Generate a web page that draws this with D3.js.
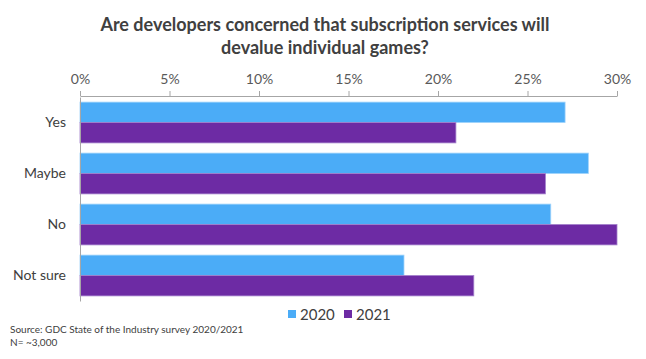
<!DOCTYPE html>
<html><head><meta charset="utf-8">
<script src="https://cdn.jsdelivr.net/npm/d3@7"></script>
<style>body{margin:0;background:#fff}text{font-family:Lato,"Open Sans",sans-serif}</style>
</head><body>
<svg id="c" width="646" height="359"></svg>
<script>
const categories = ["Yes", "Maybe", "No", "Not sure"];
const series = ["2020", "2021"];
const values2020 = [27.1, 28.4, 26.3, 18.1];
const values2021 = [21.0, 26.0, 30.0, 22.0];
const xTicks = [0, 5, 10, 15, 20, 25, 30];
const colors = ["#4BACF7", "#6D2BA4"];

const svg = d3.select("#c");
const x = d3.scaleLinear().domain([0, 30]).range([80, 617]);
const y = d3.scaleBand().domain(categories).range([97, 301]).paddingInner(0.2).paddingOuter(0.1);
const ys = d3.scaleBand().domain(series).range([0, y.bandwidth()]);

svg.append("text").attr("x", 325).attr("y", 31).attr("text-anchor", "middle")
  .attr("font-size", 18).attr("font-weight", "bold").attr("fill", "#404040")
  .text("Are developers concerned that subscription services will");
svg.append("text").attr("x", 325).attr("y", 54).attr("text-anchor", "middle")
  .attr("font-size", 18).attr("font-weight", "bold").attr("fill", "#404040")
  .text("devalue individual games?");

const xAxis = svg.append("g").attr("transform", "translate(0,96)")
  .call(d3.axisTop(x).tickValues(xTicks).tickFormat(d => d + "%").tickSize(5).tickSizeOuter(0));
xAxis.select(".domain").attr("stroke", "#a6a6a6");
xAxis.selectAll(".tick line").attr("stroke", "#a6a6a6");
xAxis.selectAll(".tick text").attr("font-size", 14).attr("fill", "#595959").attr("dy", "-4").attr("font-family", "Lato");

const data = categories.map((c, i) => ({c, v: [values2020[i], values2021[i]]}));
const g = svg.append("g");
data.forEach(d => {
  series.forEach((s, j) => {
    g.append("rect")
      .attr("x", x(0)).attr("y", y(d.c) + ys(s))
      .attr("width", x(d.v[j]) - x(0)).attr("height", ys.bandwidth())
      .attr("fill", colors[j]).attr("stroke", j === 0 ? "#9fd3fb" : "#a27fcb").attr("stroke-width", 0.8);
  });
});

const yAxis = svg.append("g").attr("transform", "translate(80,0)")
  .call(d3.axisLeft(y).tickSize(0).tickPadding(14));
yAxis.select(".domain").attr("stroke", "#a6a6a6");
yAxis.selectAll(".tick text").attr("font-size", 14).attr("fill", "#404040").attr("font-family", "Lato");

const leg = svg.append("g").attr("transform", "translate(0,314)");
const legX = [288, 344];
series.forEach((s, j) => {
  leg.append("rect").attr("x", legX[j]).attr("y", -4).attr("width", 8).attr("height", 8).attr("fill", colors[j]);
  leg.append("text").attr("x", legX[j] + 12).attr("y", 5.5).attr("font-size", 15).attr("fill", "#404040").text(s);
});

svg.append("text").attr("x", 10).attr("y", 333).attr("font-size", 10).attr("fill", "#404040")
  .text("Source: GDC State of the Industry survey 2020/2021");
svg.append("text").attr("x", 10).attr("y", 346).attr("font-size", 10).attr("fill", "#404040")
  .text("N= ~3,000");
</script>
</body></html>
